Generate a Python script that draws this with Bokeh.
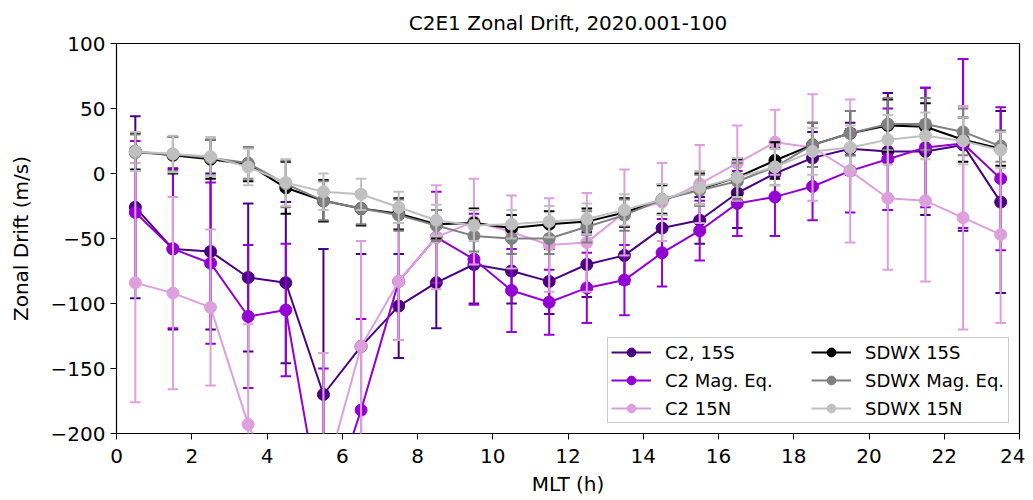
from bokeh.plotting import figure
from bokeh.models import Range1d, FixedTicker, Legend, LegendItem, CustomJSTickFormatter
from bokeh.embed import file_html
from bokeh.resources import INLINE

mlt = [0.5, 1.5, 2.5, 3.5, 4.5, 5.5, 6.5, 7.5, 8.5, 9.5, 10.5, 11.5,
       12.5, 13.5, 14.5, 15.5, 16.5, 17.5, 18.5, 19.5, 20.5, 21.5, 22.5, 23.5]

c2_15s = [-26, -58, -60, -80, -84, -170, -133, -102, -84, -70, -75, -83,
          -70, -63, -42, -36, -15, 0, 12, 19, 17, 17, 22, -22]
c2_15s_err = [70, 62, 60, 57, 62, 112, 71, 40, 35, 30, 25, 25,
              25, 22, 20, 18, 27, 20, 20, 20, 45, 49, 66, 70]

c2_meq = [-30, -58, -69, -110, -105, -270, -182, -83, -49, -66, -90, -99,
          -88, -82, -61, -44, -23, -18, -10, 2, 11, 20, 23, -4]
c2_meq_err = [55, 61, 62, 55, 51, 120, 70, 45, 35, 35, 32, 25,
              27, 27, 26, 23, 25, 30, 26, 32, 39, 46, 65, 55]

c2_15n = [-84, -92, -103, -193, -260, -238, -133, -83, -49, -37, -45, -55,
          -53, -30, -22, -8, 8, 24, 20, 2, -19, -21, -34, -47]
c2_15n_err = [92, 74, 60, 77, 50, 100, 81, 45, 40, 33, 28, 36,
              38, 33, 30, 30, 29, 25, 41, 55, 55, 62, 86, 68]

sd_15s = [17, 14, 11, 7, -11, -21, -27, -31, -39, -38, -42, -39,
          -37, -30, -20, -12, -3, 10, 22, 31, 37, 36, 26, 19]
sd_15s_err = [14, 14, 15, 13, 20, 16, 13, 12, 11, 11, 10, 10,
              10, 11, 11, 12, 14, 14, 17, 17, 20, 18, 17, 13]

sd_meq = [16, 15, 12, 8, -8, -21, -27, -32, -40, -48, -50, -50,
          -41, -32, -20, -13, -6, 5, 22, 31, 38, 38, 32, 21]
sd_meq_err = [14, 13, 14, 12, 18, 15, 12, 12, 12, 12, 12, 12,
              12, 12, 12, 12, 14, 14, 17, 17, 20, 20, 18, 12]

sd_15n = [17, 15, 13, 5, -7, -14, -16, -26, -36, -40, -39, -37,
          -35, -28, -20, -11, -3, 5, 17, 20, 26, 29, 25, 18]
sd_15n_err = [15, 14, 15, 14, 18, 14, 12, 12, 12, 12, 11, 12,
              12, 12, 12, 13, 15, 14, 18, 17, 19, 18, 18, 14]

x_ticks = list(range(0, 25, 2))
y_ticks = list(range(-200, 101, 50))

series = [
    ("C2, 15S", c2_15s, c2_15s_err, "#4b0082"),
    ("C2 Mag. Eq.", c2_meq, c2_meq_err, "#9400d3"),
    ("C2 15N", c2_15n, c2_15n_err, "#dda0dd"),
    ("SDWX 15S", sd_15s, sd_15s_err, "#000000"),
    ("SDWX Mag. Eq.", sd_meq, sd_meq_err, "#808080"),
    ("SDWX 15N", sd_15n, sd_15n_err, "#c0c0c0"),
]

FONT = "DejaVu Sans"

p = figure(width=1025, height=500, output_backend="svg", toolbar_location=None,
           x_range=Range1d(0, 24), y_range=Range1d(-200, 100),
           title="C2E1 Zonal Drift, 2020.001-100",
           min_border_left=116, min_border_right=6, min_border_top=43,
           min_border_bottom=67)

p.title.align = "center"
p.title.text_font = FONT
p.title.text_font_size = "20px"
p.title.text_font_style = "normal"
p.title.text_color = "black"
p.title.standoff = 17

p.xgrid.visible = False
p.ygrid.visible = False
p.outline_line_color = "black"
p.outline_line_width = 1.2

p.xaxis.ticker = FixedTicker(ticks=x_ticks)
p.yaxis.ticker = FixedTicker(ticks=y_ticks)
p.yaxis.formatter = CustomJSTickFormatter(
    code="return tick < 0 ? '\u2212' + Math.abs(tick) : String(tick);")
for ax in (p.xaxis[0], p.yaxis[0]):
    ax.major_label_text_font = FONT
    ax.major_label_text_font_size = "20px"
    ax.major_label_text_color = "black"
    ax.axis_label_text_font = FONT
    ax.axis_label_text_font_size = "20px"
    ax.axis_label_text_font_style = "normal"
    ax.axis_label_text_color = "black"
    ax.minor_tick_line_color = None
    ax.major_tick_out = 6
    ax.major_tick_in = 0
    ax.major_tick_line_color = "black"
    ax.axis_line_color = None
p.xaxis.axis_label = "MLT (h)"
p.yaxis.axis_label = "Zonal Drift (m/s)"
p.xaxis.major_label_standoff = 9
p.xaxis.axis_label_standoff = 6
p.yaxis.axis_label_standoff = 15

items = []
cap = 0.14
for name, vals, errs, col in series:
    lo = [v - e for v, e in zip(vals, errs)]
    hi = [v + e for v, e in zip(vals, errs)]
    r_line = p.line(mlt, vals, line_color=col, line_width=2)
    r_pt = p.scatter(mlt, vals, size=12, fill_color=col, line_color=col)
    p.segment(x0=mlt, y0=lo, x1=mlt, y1=hi, line_color=col, line_width=2)
    xl = [x - cap for x in mlt]
    xr = [x + cap for x in mlt]
    p.segment(x0=xl, y0=lo, x1=xr, y1=lo, line_color=col, line_width=2)
    p.segment(x0=xl, y0=hi, x1=xr, y1=hi, line_color=col, line_width=2)
    items.append(LegendItem(label=name, renderers=[r_line, r_pt]))

legend = Legend(items=items, ncols=2, location="bottom_right",
                label_text_font=FONT, label_text_font_size="18px",
                label_text_color="black",
                glyph_width=40, glyph_height=22, label_height=22,
                label_width=140, label_standoff=14,
                spacing=6, padding=3, margin=10,
                border_line_color="#cccccc", border_line_alpha=1,
                background_fill_alpha=0.8)
p.add_layout(legend, "center")

open("out.html", "w").write(file_html(p, INLINE))
